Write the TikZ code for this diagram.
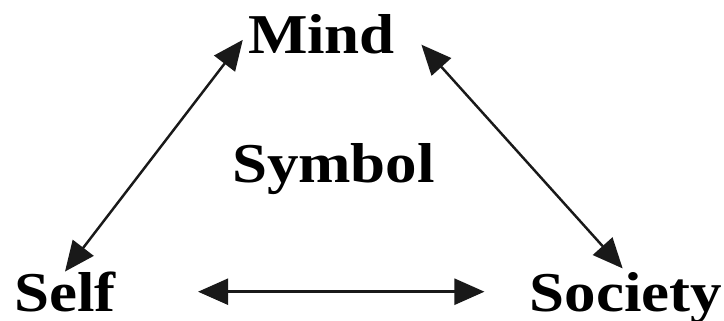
\documentclass[tikz,border=0pt]{standalone}
\usepackage{fontspec}
\setmainfont{Liberation Serif}
\newfontfamily\conceptfont[FakeStretch=1.12]{Liberation Serif}
\usetikzlibrary{arrows.meta,positioning}
\tikzset{
  concept/.style={font=\conceptfont\fontsize{32}{36}\selectfont\bfseries, inner sep=0pt, anchor=base, text depth=0pt},
  link/.style={{Triangle[length=0.6cm,width=0.52cm]}-{Triangle[length=0.6cm,width=0.52cm]}, line width=1.4pt, black!90}
}
\begin{document}
\begin{tikzpicture}
  \useasboundingbox (0,0) rectangle (14.48,6.4);

  % Concepts
  \node[concept] (mind) at (6.43,5.34) {Mind};
  \node[concept] (symbol) at (6.67,2.76) {Symbol};
  \node[concept] (self) at (1.30,0.17) {Self};
  \node[concept] (society) at (12.52,0.17) {Society};

  % Two-way links
  \draw[link, shorten <=0.16cm] (mind.west) -- (self.north);
  \draw[link, shorten <=0.3cm, shorten >=0.1cm] ([xshift=0.32cm]mind.east) -- (society.north);
  \draw[link, shorten <=1.64cm, shorten >=0.9cm] (self.east) -- (society.west |- self.east);
\end{tikzpicture}
\end{document}
